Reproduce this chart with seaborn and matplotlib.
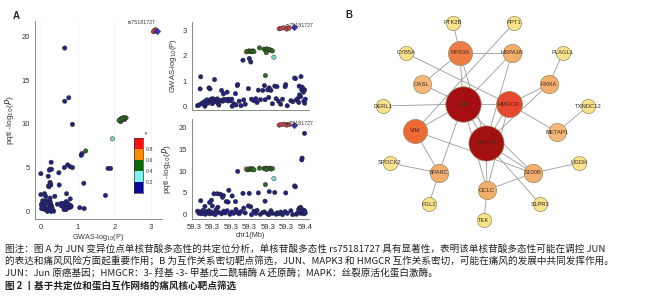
import numpy as np
import pandas as pd
import matplotlib
matplotlib.use("Agg")
import matplotlib.pyplot as plt
import seaborn as sns

# ---------------- data ----------------
pos_mb = [59.3810, 59.3693, 59.3708, 59.3732, 59.3753, 59.3773,
          59.3425,
          59.3435, 59.3447, 59.3458, 59.3465, 59.3473, 59.3480, 59.3488,
          59.3533,
          59.3570, 59.3582, 59.3593, 59.3603, 59.3615, 59.3627, 59.3638,
          59.3588, 59.3581, 59.3650,
          59.3899, 59.3879, 59.3876, 59.3356, 59.3818, 59.3825, 59.3399, 59.3450,
          59.3462, 59.3056, 59.3168, 59.3870, 59.3284, 59.3524, 59.3612, 59.3657,
          59.3746, 59.3164, 59.3191, 59.3216, 59.3311, 59.3240, 59.3233, 59.3128,
          59.3143, 59.3263, 59.3278, 59.3338, 59.3578, 59.3090, 59.3150, 59.3195,
          59.3443, 59.3855,
          59.3030, 59.3042, 59.3051, 59.3063, 59.3075, 59.3083, 59.3093, 59.3105,
          59.3114, 59.3123, 59.3131, 59.3140, 59.3153, 59.3173, 59.3180, 59.3203,
          59.3225, 59.3243, 59.3255, 59.3270, 59.3293, 59.3308, 59.3323, 59.3342,
          59.3353, 59.3368, 59.3383, 59.3405, 59.3417, 59.3468, 59.3488, 59.3503,
          59.3513, 59.3540, 59.3560, 59.3573, 59.3599, 59.3608, 59.3626, 59.3638,
          59.3668, 59.3675, 59.3687, 59.3705, 59.3720, 59.3741, 59.3758, 59.3788,
          59.3803, 59.3833, 59.3843, 59.3852, 59.3858, 59.3867, 59.3885, 59.3890,
          59.3894, 59.3900, 59.3905]
gwas_logp = [3.16, 3.08, 3.10, 3.12, 3.07, 3.11,
             2.16,
             2.18, 2.20, 2.17, 2.19, 2.18, 2.20, 2.17,
             2.32,
             2.27, 2.25, 2.28, 2.24, 2.26, 2.22, 2.20,
             2.13, 1.22, 1.95,
             0.65, 0.76, 0.65, 0.86, 1.12, 1.10, 1.83, 1.90,
             1.76, 1.17, 1.06, 1.18, 0.28, 0.64, 0.73, 0.80,
             0.86, 0.25, 0.29, 0.23, 0.00, 0.49, 0.20, 0.22,
             0.25, 0.27, 0.21, 0.50, 0.26, 0.00, 0.10, 0.13,
             0.70, 0.80,
             0.02, 0.05, 0.69, 0.10, 0.15, 0.08, 0.20, 0.25,
             0.12, 0.73, 0.69, 0.28, 0.30, 0.18, 0.25, 0.05,
             0.63, 0.27, 0.24, 0.56, 0.22, 0.28, 0.10, 0.05,
             0.82, 0.20, 0.02, 0.25, 0.08, 0.28, 0.22, 0.30,
             0.15, 0.26, 0.63, 0.82, 0.65, 0.35, 0.63, 0.10,
             0.30, 0.78, 0.20, 0.08, 0.28, 0.78, 0.02, 0.22,
             0.18, 0.25, 0.30, 0.15, 0.45, 0.38, 0.69, 0.56,
             0.20, 0.12, 0.28]
eqtl_logp = [20.7, 20.6, 20.7, 20.8, 20.6, 20.7,
             10.5,
             10.3, 10.5, 10.4, 10.6, 10.4, 10.5, 10.3,
             10.7,
             10.6, 10.7, 10.5, 10.6, 10.7, 10.5, 10.6,
             10.4, 6.9, 8.3,
             18.7, 13.0, 12.6, 9.95, 6.6, 6.4, 4.9, 4.9,
             1.8, 3.2, 0.4, 0.3, 5.6, 5.0, 5.3, 5.1,
             5.0, 4.8, 4.8, 4.7, 4.3, 4.4, 4.0, 2.8,
             3.3, 3.0, 2.9, 3.0, 3.1, 1.9, 2.0, 1.7,
             2.0, 1.4,
             0.8, 0.3, 0.6, 0.2, 1.0, 0.5, 0.1, 0.7,
             0.4, 0.9, 0.2, 0.6, 0.3, 0.0, 1.1, 0.5,
             0.2, 0.8, 0.4, 0.9, 0.1, 0.6, 0.3, 1.2,
             0.5, 0.2, 0.7, 1.5, 0.4, 0.0, 0.8, 0.3,
             1.0, 0.1, 0.5, 0.6, 0.2, 0.0, 0.9, 0.3,
             0.1, 0.4, 0.2, 0.6, 0.0, 0.7, 0.3, 0.9,
             0.0, 0.1, 0.4, 1.2, 0.8, 1.7, 1.1, 0.6,
             0.2, 0.9, 0.4]
ld_group = (["lead"] + ["0.8-1"] * 5 + ["0.6-0.8"] + ["0.4-0.6"] * 7 + ["0.4-0.6"]
            + ["0.4-0.6"] * 7 + ["0.4-0.6", "0.4-0.6", "0.2-0.4"]
            + ["0-0.2"] * 34 + ["0-0.2"] * 59)

ld_levels = ["0-0.2", "0.2-0.4", "0.4-0.6", "0.6-0.8", "0.8-1"]
ld_colors = ["#0a0a9a", "#80f4f0", "#0a6a0a", "#ff8a00", "#ff1010"]
point_colors = {"0-0.2": "#22237e", "0.2-0.4": "#7fd6d0", "0.4-0.6": "#2f6b22",
                "0.6-0.8": "#d9822b", "0.8-1": "#c8474c"}
lead_snp = "rs75181727"
cbar_ticks = [0.2, 0.4, 0.6, 0.8]
x_ticks_mb = [59.300, 59.315, 59.330, 59.345, 59.360, 59.375, 59.390]
x_tick_labels = ["59.3", "59.3", "59.3", "59.3", "59.3", "59.3", "59.4"]

df = pd.DataFrame({"pos": pos_mb, "gwas": gwas_logp, "eqtl": eqtl_logp, "ld": ld_group})
others = df[df.ld != "lead"]
lead = df[df.ld == "lead"]

# ---------------- network data ----------------
node_names = ["PTK2B", "PPT1", "CYB5A", "RPS3A", "HSPA1B", "PLAGL1", "OASL", "RXRA",
              "DERL1", "JUN", "HMGCR", "TXNDC12", "VIM", "METAP1", "MAPK3", "SPOCK2",
              "SPARC", "S100B", "UGDH", "GCLC", "FGL2", "S1PR3", "TEK"]
node_degree = [1, 1, 1, 5, 4, 1, 3, 4, 1, 12, 7, 1, 6, 3, 11, 1, 4, 4, 1, 4, 1, 1, 1]
layout_x = [453, 514, 406, 460, 512, 563, 422, 549, 383, 463, 509, 588, 415, 557, 486,
            390, 439, 533, 579, 487, 429, 540, 484]
layout_y = [23, 23, 53, 53, 53, 53, 84, 84, 106, 104, 104, 106, 131, 132, 143, 163,
            173, 173, 163, 190, 204, 204, 220]
edges = [("PTK2B", "RPS3A"), ("PPT1", "VIM"), ("CYB5A", "HMGCR"), ("RPS3A", "HSPA1B"),
         ("RPS3A", "OASL"), ("RPS3A", "JUN"), ("RPS3A", "MAPK3"), ("HSPA1B", "JUN"),
         ("HSPA1B", "MAPK3"), ("PLAGL1", "RXRA"), ("OASL", "JUN"), ("RXRA", "HMGCR"),
         ("RXRA", "MAPK3"), ("DERL1", "JUN"), ("JUN", "HMGCR"), ("JUN", "MAPK3"),
         ("JUN", "VIM"), ("JUN", "SPARC"), ("JUN", "GCLC"), ("JUN", "S100B"),
         ("HMGCR", "MAPK3"), ("HMGCR", "METAP1"), ("TXNDC12", "METAP1"),
         ("VIM", "SPARC"), ("VIM", "S100B"), ("MAPK3", "S100B"), ("MAPK3", "GCLC"),
         ("MAPK3", "S1PR3"), ("SPOCK2", "SPARC"), ("SPARC", "FGL2"), ("S100B", "UGDH"),
         ("S100B", "GCLC"), ("GCLC", "TEK"), ("HMGCR", "GCLC")]

caption_lines = [
    "图注：图 A 为 JUN 变异位点单核苷酸多态性的共定位分析，单核苷酸多态性 rs75181727 具有显著性，表明该单核苷酸多态性可能在调控 JUN",
    "的表达和痛风风险方面起重要作用；B 为互作关系密切靶点筛选，JUN、MAPK3 和 HMGCR 互作关系密切，可能在痛风的发展中共同发挥作用。",
    "JUN：Jun 原癌基因；HMGCR：3- 羟基 -3- 甲基戊二酰辅酶 A 还原酶；MAPK：丝裂原活化蛋白激酶。",
    "图 2 丨基于共定位和蛋白互作网络的痛风核心靶点筛选",
]

# ---------------- style ----------------
sns.set_style("white")
plt.rcParams["font.family"] = ["Liberation Sans", "Noto Sans CJK SC", "DejaVu Sans"]
plt.rcParams["axes.unicode_minus"] = False

W, H = 651, 300
fig = plt.figure(figsize=(W / 100, H / 100), dpi=100)


def px_axes(x0, y0, x1, y1):
    return fig.add_axes([x0 / W, 1 - y1 / H, (x1 - x0) / W, (y1 - y0) / H])


def style_axes(ax):
    for s in ["top", "right"]:
        ax.spines[s].set_visible(False)
    for s in ["left", "bottom"]:
        ax.spines[s].set_color("#777777")
        ax.spines[s].set_linewidth(0.6)
    ax.tick_params(axis="both", length=2, width=0.5, color="#777777",
                   labelsize=5.5, labelcolor="#333333", pad=1.5)


def draw_points(ax, xcol, ycol):
    sns.scatterplot(data=others, x=xcol, y=ycol, hue="ld", hue_order=ld_levels,
                    palette=point_colors, s=10, linewidth=0.3, edgecolor="#222222",
                    legend=False, ax=ax, zorder=3)
    sns.scatterplot(data=lead, x=xcol, y=ycol, color="#3b2fd0", marker="D", s=11,
                    linewidth=0.3, edgecolor="#222222", legend=False, ax=ax, zorder=4)


# ---------------- panel A left ----------------
axL = px_axes(35, 21, 162, 219)
draw_points(axL, "gwas", "eqtl")
style_axes(axL)
axL.set_xlim(-0.16, 3.3)
axL.set_ylim(-0.9, 21.8)
axL.set_xticks([0, 1, 2, 3])
axL.set_yticks([0, 5, 10, 15, 20])
axL.xaxis.grid(True, color="#eeeeee", linewidth=0.5)
axL.set_axisbelow(True)
axL.set_xlabel("GWAS-log$_{10}$(P)", fontsize=5.2, labelpad=1, color="#333333")
axL.set_ylabel("pqtl -log$_{10}$($P$)", fontsize=6, labelpad=4, color="#333333")
lx, ly = lead.gwas.iloc[0], lead.eqtl.iloc[0]
axL.annotate(lead_snp, xy=(lx, ly), xytext=(lx - 0.05, ly + 0.9), fontsize=3.8,
             ha="right", va="center", color="#333333",
             arrowprops=dict(arrowstyle="-", lw=0.4, color="#555555"))
fig.text(13 / W, 1 - 16 / H, "A", fontsize=7, fontweight="bold", va="center")

# colour key
axC = px_axes(134, 138, 143, 193)
axC.imshow(np.arange(len(ld_levels)).reshape(-1, 1), cmap=matplotlib.colors.ListedColormap(ld_colors),
           aspect="auto", origin="lower", extent=[0, 1, 0, 1])
axC.set_xticks([])
axC.yaxis.tick_right()
axC.set_yticks(cbar_ticks)
axC.set_yticklabels([str(t) for t in cbar_ticks])
axC.tick_params(axis="y", length=0, labelsize=3.8, pad=2, labelcolor="#333333")
for s in axC.spines.values():
    s.set_linewidth(0.5)
    s.set_color("#333333")
axC.text(1.15, 1.03, "r²", transform=axC.transAxes, fontsize=3.8, va="bottom",
         color="#333333")

# ---------------- panel A middle top ----------------
axT = px_axes(192, 22, 309, 110)
draw_points(axT, "pos", "gwas")
style_axes(axT)
axT.set_xlim(59.2985, 59.3935)
axT.set_ylim(-0.15, 3.35)
axT.set_yticks([0, 1, 2, 3])
axT.set_xticks(x_ticks_mb)
axT.set_xticklabels([])
axT.set_xlabel("")
axT.set_ylabel("GWAS-log$_{10}$(P)", fontsize=5.5, labelpad=3, color="#333333")
axT.text(lead.pos.iloc[0] - 0.0062, lead.gwas.iloc[0] + 0.05, lead_snp,
         fontsize=3.8, ha="left", va="center", color="#333333", zorder=5)

# ---------------- panel A middle bottom ----------------
axB = px_axes(192, 119, 309, 219)
draw_points(axB, "pos", "eqtl")
style_axes(axB)
axB.set_xlim(59.2985, 59.3935)
axB.set_ylim(-1.0, 22.0)
axB.set_yticks([0, 5, 10, 15, 20])
axB.set_xticks(x_ticks_mb)
axB.set_xticklabels(x_tick_labels)
axB.set_xlabel("chr1(Mb)", fontsize=5.2, labelpad=1, color="#333333")
axB.set_ylabel("pqtl -log$_{10}$($P$)", fontsize=6, labelpad=4, color="#333333")
axB.text(lead.pos.iloc[0] - 0.0062, lead.eqtl.iloc[0] + 0.3, lead_snp,
         fontsize=3.8, ha="left", va="center", color="#333333", zorder=5)

# ---------------- panel B network ----------------
axN = fig.add_axes([340 / W, 1 - 232 / H, (W - 340) / W, 232 / H])
axN.set_xlim(340, W)
axN.set_ylim(232, 0)
axN.axis("off")
idx = {n: i for i, n in enumerate(node_names)}
for a, b in edges:
    axN.plot([layout_x[idx[a]], layout_x[idx[b]]], [layout_y[idx[a]], layout_y[idx[b]]],
             color="#9a9a9a", lw=0.6, zorder=1)
size_map = {1: 105, 3: 170, 4: 175, 5: 300, 6: 300, 7: 350, 11: 640, 12: 650}
col_map = {1: "#f7e48a", 3: "#f6b877", 4: "#f4ae6c", 5: "#f07c45", 6: "#ec6a35",
           7: "#e5482f", 11: "#a31010", 12: "#a50f12"}
for i, n in enumerate(node_names):
    d = node_degree[i]
    axN.scatter(layout_x[i], layout_y[i], s=size_map[d], c=col_map[d],
                edgecolors="#9a8a60", linewidths=0.5, zorder=2)
    axN.text(layout_x[i], layout_y[i], n, fontsize=4.2, ha="center", va="center",
             color="#3a2a2a", zorder=3)
fig.text(345 / W, 1 - 15 / H, "B", fontsize=7, fontweight="bold", va="center")

# ---------------- caption ----------------
cap_y = [249, 261, 273, 286]
for i, (line, y) in enumerate(zip(caption_lines, cap_y)):
    fig.text(5 / W, 1 - y / H, line, fontsize=6.9, va="center", ha="left",
             family=["Noto Sans CJK SC", "DejaVu Sans"], color="#222222",
             fontweight="bold" if i == 3 else "normal")

fig.savefig("out.png", dpi=100)
